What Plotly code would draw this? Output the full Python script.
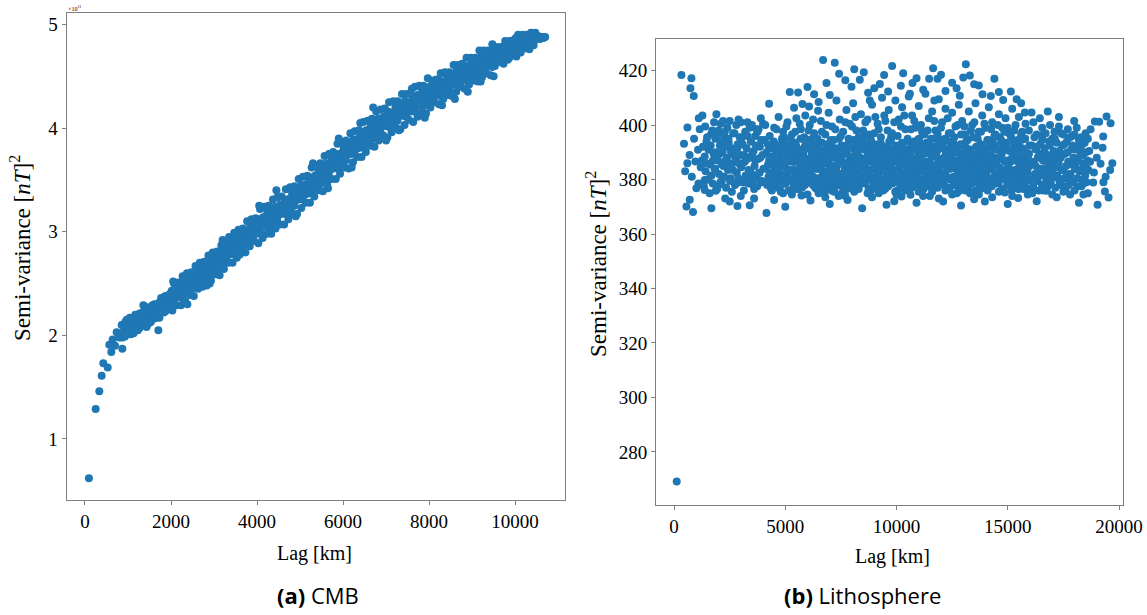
import plotly.graph_objects as go

# ---------------- CMB panel (values in units of 1e11 nT^2) ----------------
cmb_early_lag = [91, 248, 333, 388, 426, 528, 566, 612, 643, 698, 736, 798, 853, 868]
cmb_early_sv = [0.62, 1.29, 1.46, 1.61, 1.73, 1.69, 1.91, 1.84, 1.96, 1.90, 2.03, 1.98, 2.10, 1.87]

cmb_band_lag = [
    868, 886, 917, 936, 962, 993, 1012, 1041, 1066, 1088, 1118, 1137, 1163, 1194, 1211, 1242,
    1268, 1287, 1316, 1338, 1361, 1392, 1413, 1444, 1467, 1486, 1519, 1535, 1562, 1595, 1614, 1643,
    1669, 1688, 1716, 1737, 1764, 1791, 1818, 1839, 1866, 1893, 1912, 1942, 1961, 1987, 2019, 2036,
    2068, 2091, 2113, 2141, 2163, 2188, 2217, 2238, 2266, 2294, 2311, 2343, 2362, 2389, 2418, 2437,
    2467, 2492, 2514, 2541, 2563, 2587, 2619, 2638, 2668, 2693, 2711, 2742, 2761, 2788, 2816, 2839,
    2867, 2891, 2913, 2938, 2962, 2994, 3017, 3036, 3068, 3089, 3112, 3143, 3164, 3187, 3218, 3237,
    3266, 3292, 3311, 3342, 3363, 3388, 3417, 3439, 3467, 3491, 3514, 3538, 3561, 3589, 3616, 3641,
    3668, 3692, 3713, 3736, 3762, 3787, 3818, 3843, 3866, 3894, 3911, 3937, 3963, 3988, 4017, 4039,
    4067, 4092, 4114, 4142, 4161, 4189, 4216, 4238, 4268, 4291, 4313, 4337, 4362, 4388, 4419, 4441,
    4466, 4493, 4512, 4536, 4563, 4587, 4618, 4642, 4667, 4691, 4714, 4739, 4764, 4789, 4816, 4837,
    4866, 4893, 4912, 4941, 4962, 4987, 5018, 5036, 5068, 5091, 5113, 5142, 5163, 5188, 5217, 5238,
    5266, 5292, 5314, 5341, 5362, 5389, 5418, 5437, 5467, 5491, 5512, 5539, 5561, 5588, 5616, 5642,
    5668, 5692, 5713, 5736, 5763, 5787, 5819, 5838, 5866, 5894, 5911, 5942, 5962, 5988, 6017, 6039,
    6067, 6092, 6114, 6141, 6161, 6189, 6216, 6238, 6268, 6291, 6313, 6337, 6362, 6388, 6419, 6441,
    6466, 6493, 6512, 6536, 6563, 6587, 6618, 6642, 6667, 6691, 6714, 6739, 6764, 6789, 6816, 6837,
    6866, 6893, 6912, 6941, 6962, 6987, 7018, 7036, 7068, 7091, 7113, 7142, 7163, 7188, 7217, 7238,
    7266, 7292, 7314, 7341, 7362, 7389, 7418, 7437, 7467, 7491, 7512, 7539, 7561, 7588, 7616, 7642,
    7668, 7692, 7713, 7736, 7763, 7787, 7819, 7838, 7866, 7894, 7911, 7942, 7962, 7988, 8017, 8039,
    8067, 8092, 8114, 8141, 8161, 8189, 8216, 8238, 8268, 8291, 8313, 8337, 8362, 8388, 8419, 8441,
    8466, 8493, 8512, 8536, 8563, 8587, 8618, 8642, 8667, 8691, 8714, 8739, 8764, 8789, 8816, 8837,
    8866, 8893, 8912, 8941, 8962, 8987, 9018, 9036, 9068, 9091, 9113, 9142, 9163, 9188, 9217, 9238,
    9266, 9292, 9314, 9341, 9362, 9389, 9418, 9437, 9467, 9491, 9512, 9539, 9561, 9588, 9616, 9642,
    9668, 9692, 9713, 9736, 9763, 9787, 9819, 9838, 9866, 9894, 9911, 9942, 9962, 9988, 10017, 10039,
    10067, 10092, 10114, 10141, 10161, 10189, 10216, 10238, 10268, 10291, 10313, 10337, 10362, 10388, 10419, 10441,
    10466, 10493, 10512, 10536, 10580, 10630, 10660, 10700,
]
cmb_band_sv = [
    1.98, 2.03, 2.08, 2.13, 2.03, 2.12, 2.07, 2.17, 2.01, 2.11, 2.06, 2.15, 2.15, 2.06, 2.20, 2.12,
    2.07, 2.12, 2.17, 2.22, 2.12, 2.21, 2.16, 2.26, 2.11, 2.21, 2.16, 2.25, 2.25, 2.16, 2.30, 2.22,
    2.17, 2.22, 2.27, 2.32, 2.23, 2.32, 2.27, 2.37, 2.23, 2.33, 2.28, 2.37, 2.38, 2.29, 2.43, 2.35,
    2.31, 2.36, 2.41, 2.46, 2.37, 2.46, 2.41, 2.51, 2.36, 2.46, 2.41, 2.50, 2.51, 2.42, 2.56, 2.48,
    2.44, 2.49, 2.54, 2.59, 2.50, 2.59, 2.54, 2.64, 2.49, 2.59, 2.54, 2.63, 2.64, 2.55, 2.69, 2.61,
    2.57, 2.62, 2.67, 2.72, 2.63, 2.72, 2.67, 2.77, 2.63, 2.73, 2.68, 2.77, 2.78, 2.69, 2.83, 2.75,
    2.71, 2.76, 2.81, 2.86, 2.78, 2.87, 2.82, 2.92, 2.78, 2.88, 2.83, 2.92, 2.93, 2.84, 2.98, 2.90,
    2.86, 2.91, 2.96, 3.01, 2.92, 3.01, 2.96, 3.06, 2.92, 3.02, 2.97, 3.06, 3.07, 2.98, 3.12, 3.04,
    2.99, 3.04, 3.09, 3.14, 3.05, 3.14, 3.09, 3.19, 3.04, 3.14, 3.09, 3.18, 3.19, 3.10, 3.24, 3.16,
    3.11, 3.16, 3.21, 3.26, 3.17, 3.26, 3.21, 3.31, 3.17, 3.27, 3.22, 3.31, 3.32, 3.23, 3.37, 3.29,
    3.25, 3.30, 3.35, 3.40, 3.31, 3.40, 3.35, 3.45, 3.31, 3.41, 3.36, 3.45, 3.46, 3.37, 3.51, 3.43,
    3.39, 3.44, 3.49, 3.54, 3.46, 3.55, 3.50, 3.60, 3.46, 3.56, 3.51, 3.60, 3.61, 3.52, 3.66, 3.58,
    3.54, 3.59, 3.64, 3.69, 3.61, 3.70, 3.65, 3.75, 3.61, 3.71, 3.66, 3.75, 3.76, 3.67, 3.81, 3.73,
    3.69, 3.74, 3.79, 3.84, 3.75, 3.84, 3.79, 3.89, 3.75, 3.85, 3.80, 3.89, 3.90, 3.81, 3.95, 3.87,
    3.83, 3.88, 3.93, 3.98, 3.89, 3.98, 3.93, 4.03, 3.89, 3.99, 3.94, 4.03, 4.04, 3.95, 4.09, 4.01,
    3.96, 4.01, 4.06, 4.11, 4.02, 4.11, 4.06, 4.16, 4.01, 4.11, 4.06, 4.15, 4.15, 4.06, 4.20, 4.12,
    4.07, 4.12, 4.17, 4.22, 4.12, 4.21, 4.16, 4.26, 4.11, 4.21, 4.16, 4.25, 4.25, 4.16, 4.30, 4.22,
    4.17, 4.22, 4.27, 4.32, 4.22, 4.31, 4.26, 4.36, 4.21, 4.31, 4.26, 4.35, 4.35, 4.26, 4.40, 4.32,
    4.27, 4.32, 4.37, 4.42, 4.32, 4.41, 4.36, 4.46, 4.31, 4.41, 4.36, 4.45, 4.45, 4.36, 4.50, 4.42,
    4.37, 4.42, 4.47, 4.52, 4.42, 4.51, 4.46, 4.56, 4.41, 4.51, 4.46, 4.55, 4.55, 4.46, 4.60, 4.52,
    4.46, 4.51, 4.56, 4.61, 4.51, 4.60, 4.55, 4.65, 4.50, 4.60, 4.55, 4.64, 4.64, 4.55, 4.69, 4.61,
    4.55, 4.60, 4.65, 4.70, 4.60, 4.69, 4.64, 4.74, 4.59, 4.69, 4.64, 4.73, 4.73, 4.64, 4.78, 4.70,
    4.64, 4.69, 4.74, 4.79, 4.69, 4.78, 4.73, 4.83, 4.68, 4.78, 4.73, 4.82, 4.82, 4.73, 4.87, 4.79,
    4.75, 4.79, 4.83, 4.87, 4.79, 4.86, 4.82, 4.89, 4.79, 4.86, 4.82, 4.88, 4.88, 4.83, 4.90, 4.86,
    4.85, 4.88, 4.87, 4.89, 4.86, 4.88, 4.87, 4.88,
]
# outer edges of the CMB band (lower / upper member at each lag)
cmb_edge_lag = [
    930, 970, 1030, 1070, 1130, 1170, 1230, 1270, 1330, 1370, 1430, 1470, 1530, 1570, 1630, 1670,
    1730, 1770, 1830, 1870, 1930, 1970, 2030, 2070, 2130, 2170, 2230, 2270, 2330, 2370, 2430, 2470,
    2530, 2570, 2630, 2670, 2730, 2770, 2830, 2870, 2930, 2970, 3030, 3070, 3130, 3170, 3230, 3270,
    3330, 3370, 3430, 3470, 3530, 3570, 3630, 3670, 3730, 3770, 3830, 3870, 3930, 3970, 4030, 4070,
    4130, 4170, 4230, 4270, 4330, 4370, 4430, 4470, 4530, 4570, 4630, 4670, 4730, 4770, 4830, 4870,
    4930, 4970, 5030, 5070, 5130, 5170, 5230, 5270, 5330, 5370, 5430, 5470, 5530, 5570, 5630, 5670,
    5730, 5770, 5830, 5870, 5930, 5970, 6030, 6070, 6130, 6170, 6230, 6270, 6330, 6370, 6430, 6470,
    6530, 6570, 6630, 6670, 6730, 6770, 6830, 6870, 6930, 6970, 7030, 7070, 7130, 7170, 7230, 7270,
    7330, 7370, 7430, 7470, 7530, 7570, 7630, 7670, 7730, 7770, 7830, 7870, 7930, 7970, 8030, 8070,
    8130, 8170, 8230, 8270, 8330, 8370, 8430, 8470, 8530, 8570, 8630, 8670, 8730, 8770, 8830, 8870,
    8930, 8970, 9030, 9070, 9130, 9170, 9230, 9270, 9330, 9370, 9430, 9470, 9530, 9570, 9630, 9670,
    9730, 9770, 9830, 9870, 9930, 9970, 10030, 10070, 10130, 10170, 10230, 10270, 10330, 10370, 10430, 10470,
]
cmb_edge_sv = [
    1.99, 2.15, 2.03, 2.16, 2.02, 2.20, 2.05, 2.21, 2.10, 2.23, 2.08, 2.27, 2.13, 2.29, 2.17, 2.30,
    2.17, 2.36, 2.22, 2.38, 2.27, 2.40, 2.24, 2.50, 2.29, 2.51, 2.29, 2.57, 2.33, 2.60, 2.39, 2.61,
    2.38, 2.67, 2.45, 2.70, 2.47, 2.71, 2.48, 2.77, 2.53, 2.80, 2.59, 2.81, 2.58, 2.87, 2.64, 2.90,
    2.70, 2.92, 2.70, 2.99, 2.75, 3.02, 2.81, 3.03, 2.80, 3.10, 2.86, 3.12, 2.91, 3.13, 2.89, 3.22,
    2.94, 3.24, 2.98, 3.25, 2.98, 3.31, 3.03, 3.33, 3.07, 3.34, 3.07, 3.41, 3.12, 3.43, 3.17, 3.44,
    3.17, 3.51, 3.23, 3.53, 3.28, 3.54, 3.28, 3.62, 3.34, 3.64, 3.40, 3.66, 3.39, 3.73, 3.45, 3.75,
    3.51, 3.77, 3.51, 3.85, 3.56, 3.86, 3.62, 3.88, 3.61, 3.95, 3.67, 3.97, 3.72, 3.98, 3.72, 4.06,
    3.77, 4.07, 3.83, 4.09, 3.82, 4.16, 3.88, 4.18, 3.93, 4.19, 3.91, 4.25, 3.96, 4.26, 4.00, 4.26,
    3.99, 4.33, 4.03, 4.33, 4.08, 4.34, 4.06, 4.40, 4.11, 4.41, 4.15, 4.41, 4.14, 4.48, 4.20, 4.46,
    4.25, 4.47, 4.23, 4.53, 4.28, 4.54, 4.32, 4.54, 4.31, 4.61, 4.35, 4.61, 4.40, 4.62, 4.38, 4.68,
    4.42, 4.68, 4.46, 4.68, 4.45, 4.75, 4.49, 4.75, 4.53, 4.75, 4.51, 4.81, 4.60, 4.78, 4.64, 4.78,
    4.62, 4.84, 4.66, 4.84, 4.71, 4.85, 4.69, 4.90, 4.73, 4.90, 4.77, 4.90, 4.76, 4.92, 4.80, 4.92,
]
cmb_out_lag = [1357, 1705, 2050, 2380, 2900, 3200, 3350, 3600, 4050, 4450, 4900, 5300, 5650,
               5900, 6200, 6700, 7000, 7600, 7900, 8300, 8600, 8900, 9200, 9500, 6400, 7300]
cmb_out_sv = [2.29, 2.05, 2.52, 2.30, 2.50, 2.92, 2.95, 2.78, 3.25, 3.40, 3.15, 3.66, 3.42,
              3.90, 3.62, 4.20, 3.88, 4.38, 4.10, 4.22, 4.28, 4.35, 4.45, 4.50, 4.05, 3.98]

# ---------------- Lithosphere panel (nT^2) ----------------
lith_outlier_lag = [121]
lith_outlier_sv = [269.1]

lith_early_lag = [962, 1079, 1380, 600, 800, 1200, 900, 1300, 700, 1100, 1250, 500]
lith_early_sv = [386.6, 390.9, 379.8, 386.0, 381.0, 384.5, 395.0, 392.0, 389.0, 378.5, 387.0, 383.0]

lith_coreA_lag = [
    1340, 1420, 1380, 1460, 1400, 1540, 1620, 1580, 1660, 1600, 1740, 1820, 1780, 1860, 1800,
    1940, 2020, 1980, 2060, 2000, 2140, 2220, 2180, 2260, 2200, 2340, 2420, 2380, 2460, 2400,
    2540, 2620, 2580, 2660, 2600, 2740, 2820, 2780, 2860, 2800, 2940, 3020, 2980, 3060, 3000,
    3140, 3220, 3180, 3260, 3200, 3340, 3420, 3380, 3460, 3400, 3540, 3620, 3580, 3660, 3600,
    3740, 3820, 3780, 3860, 3800, 3940, 4020, 3980, 4060, 4000,
]
lith_coreA_sv = [
    377.5, 383.0, 388.5, 394.0, 399.5, 380.0, 385.5, 391.0, 396.5, 375.0, 378.5, 384.0, 389.5, 395.0, 401.0,
    376.5, 382.0, 387.0, 392.5, 398.0, 379.5, 385.0, 390.0, 396.0, 401.5, 377.0, 383.5, 388.0, 393.5, 399.0,
    380.5, 386.0, 391.5, 397.0, 375.5, 378.0, 382.5, 387.5, 393.0, 400.0, 379.0, 384.5, 389.0, 395.5, 401.0,
    376.0, 381.5, 386.5, 391.5, 397.5, 378.5, 383.0, 388.0, 394.0, 399.0, 380.0, 385.0, 390.5, 396.0, 376.5,
    377.5, 382.5, 387.5, 392.0, 398.5, 379.0, 384.0, 389.0, 394.5, 400.5,
]
lith_coreA2_lag = [
    1450, 1485, 1515, 1550, 1650, 1685, 1715, 1750, 1850, 1885, 1915, 1950,
    2050, 2085, 2115, 2150, 2250, 2285, 2315, 2350, 2450, 2485, 2515, 2550,
    2650, 2685, 2715, 2750, 2850, 2885, 2915, 2950, 3050, 3085, 3115, 3150,
    3250, 3285, 3315, 3350, 3450, 3485, 3515, 3550, 3650, 3685, 3715, 3750,
    3850, 3885, 3915, 3950,
]
lith_coreA2_sv = [
    386.0, 395.5, 380.0, 391.0, 392.5, 381.5, 398.0, 387.0, 384.0, 390.0, 377.5, 396.5,
    389.5, 379.0, 394.0, 385.5, 381.0, 397.5, 387.0, 392.0, 395.0, 385.0, 379.5, 390.5,
    383.5, 389.0, 397.0, 378.5, 391.5, 380.5, 386.0, 395.5, 385.5, 393.0, 379.0, 389.0,
    380.0, 387.5, 396.0, 383.5, 394.0, 382.0, 389.5, 378.0, 387.0, 392.5, 380.5, 397.5,
    382.5, 388.0, 394.5, 379.5,
]

lith_coreB_lag = [
    4125, 4155, 4185, 4215, 4245, 4275, 4325, 4355, 4385, 4415, 4445, 4475,
    4525, 4555, 4585, 4615, 4645, 4675, 4725, 4755, 4785, 4815, 4845, 4875,
    4925, 4955, 4985, 5015, 5045, 5075, 5125, 5155, 5185, 5215, 5245, 5275,
    5325, 5355, 5385, 5415, 5445, 5475, 5525, 5555, 5585, 5615, 5645, 5675,
    5725, 5755, 5785, 5815, 5845, 5875, 5925, 5955, 5985, 6015, 6045, 6075,
    6125, 6155, 6185, 6215, 6245, 6275, 6325, 6355, 6385, 6415, 6445, 6475,
    6525, 6555, 6585, 6615, 6645, 6675, 6725, 6755, 6785, 6815, 6845, 6875,
    6925, 6955, 6985, 7015, 7045, 7075, 7125, 7155, 7185, 7215, 7245, 7275,
    7325, 7355, 7385, 7415, 7445, 7475, 7525, 7555, 7585, 7615, 7645, 7675,
    7725, 7755, 7785, 7815, 7845, 7875, 7925, 7955, 7985, 8015, 8045, 8075,
    8125, 8155, 8185, 8215, 8245, 8275, 8325, 8355, 8385, 8415, 8445, 8475,
    8525, 8555, 8585, 8615, 8645, 8675, 8725, 8755, 8785, 8815, 8845, 8875,
    8925, 8955, 8985, 9015, 9045, 9075, 9125, 9155, 9185, 9215, 9245, 9275,
    9325, 9355, 9385, 9415, 9445, 9475, 9525, 9555, 9585, 9615, 9645, 9675,
    9725, 9755, 9785, 9815, 9845, 9875, 9925, 9955, 9985, 10015, 10045, 10075,
    10125, 10155, 10185, 10215, 10245, 10275, 10325, 10355, 10385, 10415, 10445, 10475,
    10525, 10555, 10585, 10615, 10645, 10675, 10725, 10755, 10785, 10815, 10845, 10875,
    10925, 10955, 10985, 11015, 11045, 11075, 11125, 11155, 11185, 11215, 11245, 11275,
    11325, 11355, 11385, 11415, 11445, 11475, 11525, 11555, 11585, 11615, 11645, 11675,
    11725, 11755, 11785, 11815, 11845, 11875, 11925, 11955, 11985, 12015, 12045, 12075,
    12125, 12155, 12185, 12215, 12245, 12275, 12325, 12355, 12385, 12415, 12445, 12475,
    12525, 12555, 12585, 12615, 12645, 12675, 12725, 12755, 12785, 12815, 12845, 12875,
    12925, 12955, 12985, 13015, 13045, 13075, 13125, 13155, 13185, 13215, 13245, 13275,
    13325, 13355, 13385, 13415, 13445, 13475, 13525, 13555, 13585, 13615, 13645, 13675,
    13725, 13755, 13785, 13815, 13845, 13875, 13925, 13955, 13985, 14015, 14045, 14075,
    14125, 14155, 14185, 14215, 14245, 14275, 14325, 14355, 14385, 14415, 14445, 14475,
    14525, 14555, 14585, 14615, 14645, 14675, 14725, 14755, 14785, 14815, 14845, 14875,
    14925, 14955, 14985, 15015, 15045, 15075, 15125, 15155, 15185, 15215, 15245, 15275,
    15325, 15355, 15385, 15415, 15445, 15475, 15525, 15555, 15585, 15615, 15645, 15675,
    15725, 15755, 15785, 15815, 15845, 15875, 15925, 15955, 15985, 16015, 16045, 16075,
]
lith_coreB_sv = [
    384.0, 390.0, 378.0, 393.0, 381.0, 387.0, 388.5, 377.0, 385.5, 382.5, 391.5, 379.5,
    380.0, 386.0, 392.5, 377.5, 389.5, 383.0, 391.0, 382.0, 388.0, 379.0, 385.0, 394.0,
    381.5, 395.5, 384.5, 378.5, 387.5, 390.5, 386.5, 380.5, 392.0, 383.5, 376.0, 389.0,
    390.5, 383.5, 378.5, 386.5, 393.5, 381.5, 382.0, 389.0, 376.5, 391.0, 379.0, 386.0,
    386.5, 377.0, 383.5, 389.0, 380.5, 392.0, 379.5, 387.5, 394.5, 382.5, 391.5, 384.5,
    385.0, 381.0, 390.0, 395.0, 378.0, 388.0, 392.5, 386.0, 380.0, 376.5, 389.5, 384.0,
    390.5, 384.0, 378.5, 386.5, 393.5, 381.5, 382.0, 389.5, 376.5, 391.0, 379.0, 386.0,
    386.5, 377.5, 383.5, 389.0, 380.5, 392.0, 379.5, 388.0, 394.5, 382.5, 391.5, 384.5,
    385.0, 381.5, 390.0, 395.0, 378.0, 388.0, 392.5, 386.5, 380.0, 376.5, 389.5, 384.0,
    384.0, 390.5, 378.0, 393.0, 381.0, 387.0, 388.5, 377.5, 385.5, 382.5, 391.5, 379.5,
    380.0, 386.5, 392.5, 377.5, 389.5, 383.0, 391.0, 382.5, 388.0, 379.0, 385.0, 394.0,
    381.5, 396.0, 384.5, 378.5, 387.5, 390.5, 386.5, 381.0, 392.0, 383.5, 376.0, 389.0,
    384.0, 390.0, 377.5, 393.0, 381.0, 387.0, 388.5, 377.0, 385.0, 382.5, 391.5, 379.5,
    380.0, 386.0, 392.0, 377.5, 389.5, 383.0, 391.0, 382.0, 387.5, 379.0, 385.0, 394.0,
    381.5, 395.5, 384.0, 378.5, 387.5, 390.5, 386.5, 380.5, 391.5, 383.5, 376.0, 389.0,
    390.5, 383.5, 378.0, 386.5, 393.5, 381.5, 382.0, 389.0, 376.0, 391.0, 379.0, 386.0,
    386.5, 377.0, 383.0, 389.0, 380.5, 392.0, 379.5, 387.5, 394.0, 382.5, 391.5, 384.5,
    385.0, 381.0, 389.5, 395.0, 378.0, 388.0, 392.5, 386.0, 379.5, 376.5, 389.5, 384.0,
    381.5, 393.5, 386.5, 378.5, 383.5, 390.5, 386.0, 379.0, 391.0, 376.5, 389.0, 382.0,
    392.0, 380.5, 389.0, 383.5, 377.0, 386.5, 384.5, 391.5, 382.5, 394.5, 387.5, 379.5,
    388.0, 378.0, 395.0, 390.0, 381.0, 385.0, 384.0, 389.5, 376.5, 380.0, 386.0, 392.5,
    387.0, 381.0, 393.0, 378.0, 390.0, 384.0, 379.5, 391.5, 382.5, 385.5, 377.0, 388.5,
    383.0, 389.5, 377.5, 392.5, 386.0, 380.0, 394.0, 385.0, 379.0, 388.0, 382.0, 391.0,
    390.5, 387.5, 378.5, 384.5, 395.5, 381.5, 389.0, 376.0, 383.5, 392.0, 380.5, 386.5,
    387.5, 381.0, 393.0, 378.0, 390.0, 384.0, 380.0, 391.5, 382.5, 385.5, 377.0, 388.5,
    383.5, 389.5, 377.5, 392.5, 386.0, 380.0, 394.5, 385.0, 379.0, 388.0, 382.0, 391.0,
    391.0, 387.5, 378.5, 384.5, 395.5, 381.5, 389.5, 376.0, 383.5, 392.0, 380.5, 386.5,
    382.0, 393.5, 386.5, 378.5, 383.5, 390.5, 386.5, 379.0, 391.0, 376.5, 389.0, 382.0,
    392.5, 380.5, 389.0, 383.5, 377.0, 386.5, 385.0, 391.5, 382.5, 394.5, 387.5, 379.5,
    388.5, 378.0, 395.0, 390.0, 381.0, 385.0, 384.5, 389.5, 376.5, 380.0, 386.0, 392.5,
]
lith_coreB2_lag = [
    4225, 4255, 4285, 4315, 4345, 4375, 4425, 4455, 4485, 4515, 4545, 4575,
    4625, 4655, 4685, 4715, 4745, 4775, 4825, 4855, 4885, 4915, 4945, 4975,
    5025, 5055, 5085, 5115, 5145, 5175, 5225, 5255, 5285, 5315, 5345, 5375,
    5425, 5455, 5485, 5515, 5545, 5575, 5625, 5655, 5685, 5715, 5745, 5775,
    5825, 5855, 5885, 5915, 5945, 5975, 6025, 6055, 6085, 6115, 6145, 6175,
    6225, 6255, 6285, 6315, 6345, 6375, 6425, 6455, 6485, 6515, 6545, 6575,
    6625, 6655, 6685, 6715, 6745, 6775, 6825, 6855, 6885, 6915, 6945, 6975,
    7025, 7055, 7085, 7115, 7145, 7175, 7225, 7255, 7285, 7315, 7345, 7375,
    7425, 7455, 7485, 7515, 7545, 7575, 7625, 7655, 7685, 7715, 7745, 7775,
    7825, 7855, 7885, 7915, 7945, 7975, 8025, 8055, 8085, 8115, 8145, 8175,
    8225, 8255, 8285, 8315, 8345, 8375, 8425, 8455, 8485, 8515, 8545, 8575,
    8625, 8655, 8685, 8715, 8745, 8775, 8825, 8855, 8885, 8915, 8945, 8975,
    9025, 9055, 9085, 9115, 9145, 9175, 9225, 9255, 9285, 9315, 9345, 9375,
    9425, 9455, 9485, 9515, 9545, 9575, 9625, 9655, 9685, 9715, 9745, 9775,
    9825, 9855, 9885, 9915, 9945, 9975, 10025, 10055, 10085, 10115, 10145, 10175,
    10225, 10255, 10285, 10315, 10345, 10375, 10425, 10455, 10485, 10515, 10545, 10575,
    10625, 10655, 10685, 10715, 10745, 10775, 10825, 10855, 10885, 10915, 10945, 10975,
    11025, 11055, 11085, 11115, 11145, 11175, 11225, 11255, 11285, 11315, 11345, 11375,
    11425, 11455, 11485, 11515, 11545, 11575, 11625, 11655, 11685, 11715, 11745, 11775,
    11825, 11855, 11885, 11915, 11945, 11975, 12025, 12055, 12085, 12115, 12145, 12175,
    12225, 12255, 12285, 12315, 12345, 12375, 12425, 12455, 12485, 12515, 12545, 12575,
    12625, 12655, 12685, 12715, 12745, 12775, 12825, 12855, 12885, 12915, 12945, 12975,
    13025, 13055, 13085, 13115, 13145, 13175, 13225, 13255, 13285, 13315, 13345, 13375,
    13425, 13455, 13485, 13515, 13545, 13575, 13625, 13655, 13685, 13715, 13745, 13775,
    13825, 13855, 13885, 13915, 13945, 13975, 14025, 14055, 14085, 14115, 14145, 14175,
    14225, 14255, 14285, 14315, 14345, 14375, 14425, 14455, 14485, 14515, 14545, 14575,
    14625, 14655, 14685, 14715, 14745, 14775, 14825, 14855, 14885, 14915, 14945, 14975,
    15025, 15055, 15085, 15115, 15145, 15175, 15225, 15255, 15285, 15315, 15345, 15375,
    15425, 15455, 15485, 15515, 15545, 15575, 15625, 15655, 15685, 15715, 15745, 15775,
    15825, 15855, 15885, 15915, 15945, 15975,
]
lith_coreB2_sv = [
    385.5, 379.0, 391.5, 382.5, 388.0, 376.5, 381.0, 387.5, 394.0, 384.0, 378.5, 390.0,
    389.5, 383.5, 377.0, 392.5, 386.0, 380.5, 378.0, 392.0, 385.0, 381.5, 390.5, 387.0,
    387.0, 380.0, 383.0, 389.0, 376.0, 393.0, 383.0, 390.5, 379.5, 386.5, 392.5, 377.5,
    386.5, 380.0, 392.5, 383.5, 389.0, 377.5, 382.0, 388.5, 395.0, 385.0, 379.5, 391.0,
    390.5, 384.5, 378.0, 393.5, 387.0, 381.5, 379.0, 393.0, 386.0, 382.5, 391.5, 388.0,
    388.0, 381.0, 384.0, 390.0, 377.0, 394.0, 384.0, 391.5, 380.5, 387.5, 393.5, 378.5,
    384.5, 378.0, 390.5, 381.5, 387.0, 375.5, 380.0, 386.5, 393.0, 383.0, 377.5, 389.0,
    388.5, 382.5, 376.0, 391.5, 385.0, 379.5, 377.0, 391.0, 384.0, 380.5, 389.5, 386.0,
    386.0, 379.0, 382.0, 388.0, 375.0, 392.0, 382.0, 389.5, 378.5, 385.5, 391.5, 376.5,
    386.0, 379.5, 392.0, 383.0, 388.5, 377.0, 381.5, 388.0, 394.5, 384.5, 379.0, 390.5,
    390.0, 384.0, 377.5, 393.0, 386.5, 381.0, 378.5, 392.5, 385.5, 382.0, 391.0, 387.5,
    387.5, 380.5, 383.5, 389.5, 376.5, 393.5, 383.5, 391.0, 380.0, 387.0, 393.0, 378.0,
    385.0, 378.5, 391.0, 382.0, 387.5, 376.0, 380.5, 387.0, 393.5, 383.5, 378.0, 389.5,
    389.0, 383.0, 376.5, 392.0, 385.5, 380.0, 377.5, 391.5, 384.5, 381.0, 390.0, 386.5,
    386.5, 379.5, 382.5, 388.5, 375.5, 392.5, 382.5, 390.0, 379.0, 386.0, 392.0, 377.0,
    385.5, 379.0, 391.5, 382.5, 388.0, 376.5, 381.0, 387.5, 394.0, 384.0, 378.5, 390.0,
    389.5, 383.5, 377.0, 392.5, 386.0, 380.5, 378.0, 392.0, 385.0, 381.5, 390.5, 387.0,
    387.0, 380.0, 383.0, 389.0, 376.0, 393.0, 383.0, 390.5, 379.5, 386.5, 392.5, 377.5,
    386.5, 380.0, 392.5, 383.5, 389.0, 377.5, 382.0, 388.5, 395.0, 385.0, 379.5, 391.0,
    390.5, 384.5, 378.0, 393.5, 387.0, 381.5, 379.0, 393.0, 386.0, 382.5, 391.5, 388.0,
    388.0, 381.0, 384.0, 390.0, 377.0, 394.0, 384.0, 391.5, 380.5, 387.5, 393.5, 378.5,
    384.5, 378.0, 390.5, 381.5, 387.0, 375.5, 380.0, 386.5, 393.0, 383.0, 377.5, 389.0,
    388.5, 382.5, 376.0, 391.5, 385.0, 379.5, 377.0, 391.0, 384.0, 380.5, 389.5, 386.0,
    386.0, 379.0, 382.0, 388.0, 375.0, 392.0, 382.0, 389.5, 378.5, 385.5, 391.5, 376.5,
    386.0, 379.5, 392.0, 383.0, 388.5, 377.0, 381.5, 388.0, 394.5, 384.5, 379.0, 390.5,
    390.0, 384.0, 377.5, 393.0, 386.5, 381.0, 378.5, 392.5, 385.5, 382.0, 391.0, 387.5,
    387.5, 380.5, 383.5, 389.5, 376.5, 393.5, 383.5, 391.0, 380.0, 387.0, 393.0, 378.0,
    385.0, 378.5, 391.0, 382.0, 387.5, 376.0, 380.5, 387.0, 393.5, 383.5, 378.0, 389.5,
    389.0, 383.0, 376.5, 392.0, 385.5, 380.0, 377.5, 391.5, 384.5, 381.0, 390.0, 386.5,
    386.5, 379.5, 382.5, 388.5, 375.5, 392.5,
]

lith_coreC_lag = [
    16140, 16220, 16180, 16260, 16200, 16340, 16420, 16380, 16460, 16400,
    16540, 16620, 16580, 16660, 16600, 16740, 16820, 16780, 16860, 16800,
    16940, 17020, 16980, 17060, 17000, 17140, 17220, 17180, 17260, 17200,
    17340, 17420, 17380, 17460, 17400, 17540, 17620, 17580, 17660, 17600,
    17740, 17820, 17780, 17860, 17800, 17940, 18020, 17980, 18060, 18000,
    18140, 18220, 18180, 18260, 18200, 18340, 18420, 18380, 18460, 18400,
    18540, 18620, 18580, 18660, 18600,
]
lith_coreC_sv = [
    377.5, 382.0, 386.5, 391.0, 395.5, 379.5, 384.0, 388.5, 393.0, 376.0,
    378.0, 383.0, 387.0, 391.5, 396.5, 380.0, 384.5, 389.0, 394.0, 377.5,
    378.5, 382.5, 386.0, 390.5, 395.0, 377.0, 381.5, 385.5, 389.5, 393.5,
    379.0, 383.5, 388.0, 392.5, 397.0, 380.5, 385.0, 389.5, 394.0, 376.5,
    378.0, 382.0, 386.5, 391.0, 395.5, 379.5, 384.0, 388.0, 392.0, 396.5,
    377.5, 383.0, 387.5, 391.5, 394.5, 380.0, 384.5, 389.0, 393.5, 378.5,
    379.0, 383.5, 387.0, 390.5, 395.0,
]
lith_coreC2_lag = [
    16250, 16285, 16315, 16350, 16450, 16485, 16515, 16550, 16650, 16685, 16715, 16750,
    16850, 16885, 16915, 16950, 17050, 17085, 17115, 17150, 17250, 17285, 17315, 17350,
    17450, 17485, 17515, 17550, 17650, 17685, 17715, 17750, 17850, 17885, 17915, 17950,
    18050, 18085, 18115, 18150, 18250, 18285, 18315, 18350, 18450, 18485, 18515, 18550,
]
lith_coreC2_sv = [
    385.0, 380.5, 392.0, 388.0, 381.5, 389.5, 384.0, 394.5, 390.0, 378.5, 386.5, 382.5,
    383.0, 392.5, 380.0, 388.5, 387.5, 381.0, 395.0, 384.5, 380.5, 386.0, 390.5, 378.0,
    389.0, 383.5, 377.5, 393.0, 382.0, 390.0, 386.5, 380.0, 385.5, 379.0, 392.5, 388.0,
    391.0, 384.0, 380.5, 386.5, 383.5, 389.5, 377.5, 393.0, 386.0, 381.5, 390.0, 384.0,
]

lith_high_lag = [332, 782, 737, 886, 602, 450, 1111, 1156, 1277, 1905, 4273, 5202, 5577, 6296,
                 6700, 7225, 7421, 6852, 8530, 8350, 7976, 9803, 9443, 9250, 8724, 5396, 5773,
                 6070, 6475, 11646, 13116, 13296, 13489, 11466, 11843, 10899, 10719, 10193, 9622,
                 12203, 15140, 14600, 13866, 14240, 14793, 12846, 15769, 16070, 16443, 17986,
                 18916, 19442, 19622, 19110, 18723, 19290, 19262]
lith_high_sv = [418.4, 417.2, 413.5, 410.7, 399.1, 393.1, 402.5, 398.5, 403.5, 404.0, 407.8, 412.1,
                412.0, 411.3, 423.9, 422.9, 418.8, 415.4, 419.4, 416.6, 414.1, 421.7, 418.4, 415.1,
                411.9, 406.4, 407.7, 406.8, 405.3, 420.9, 422.3, 418.2, 415.0, 417.0, 417.0, 417.2,
                415.4, 414.4, 412.3, 412.5, 412.3, 412.1, 411.3, 410.7, 409.2, 410.8, 404.6, 404.6,
                402.5, 401.5, 401.3, 403.1, 400.7, 401.2, 398.5, 395.8, 391.7]

lith_upper_lag = [2100, 2500, 2900, 3300, 3500, 3700, 3900, 4100, 4500, 4700,
                  4900, 5100, 5300, 5500, 5700, 5900, 6100, 6300, 6500, 6600,
                  6800, 6950, 7100, 7300, 7450, 7600, 7750, 7900, 8050, 8200,
                  8400, 8600, 8750, 8900, 9050, 9200, 9350, 9500, 9650, 9800,
                  9950, 10100, 10250, 10400, 10550, 10700, 10850, 11000, 11150, 11300,
                  11450, 11600, 11750, 11900, 12050, 12200, 12350, 12500, 12650, 12800,
                  12950, 13100, 13250, 13400, 13550, 13700, 13850, 14000, 14150, 14300,
                  14450, 14600, 14750, 14900, 15050, 15200, 15350, 15500, 15650, 15800,
                  15950, 16150, 16300, 16550, 16700, 16900, 17100, 17300, 17500, 17700,
                  17900, 18100, 18300, 18500,
                  6000, 7700, 8100, 9000, 10300, 11200, 12000, 12500, 13700, 14400,
                  15400, 7000, 8800, 11700, 12700, 10600, 13000, 15600, 16800, 17300]
lith_upper_sv = [400.5, 401.5, 402.0, 401.0, 400.0, 398.5, 402.5, 400.0, 399.0, 403.0,
                 397.5, 401.0, 396.5, 402.5, 398.5, 403.5, 400.0, 397.0, 408.5, 401.5,
                 396.5, 404.5, 399.5, 409.0, 402.0, 397.5, 405.5, 400.5, 408.0, 398.0,
                 404.0, 401.0, 396.5, 407.5, 403.0, 398.5, 410.0, 401.5, 405.5, 397.0,
                 409.0, 402.0, 406.5, 398.5, 410.5, 403.5, 399.0, 407.0, 397.5, 411.5,
                 402.5, 405.0, 398.0, 409.5, 401.0, 406.0, 397.0, 404.5, 399.5, 407.5,
                 401.5, 396.5, 405.0, 400.0, 408.0, 397.5, 403.5, 399.0, 406.5, 401.0,
                 396.5, 404.0, 399.0, 402.5, 397.0, 406.0, 400.0, 403.0, 397.5, 400.5,
                 398.0, 401.0, 396.5, 399.0, 397.0, 400.0, 397.5, 399.5, 396.5, 398.5,
                 396.0, 399.0, 395.5, 397.0,
                 414.0, 416.5, 420.5, 413.5, 419.0, 413.0, 418.5, 415.5, 414.5, 417.0,
                 409.5, 411.0, 409.0, 409.0, 413.5, 411.5, 417.5, 408.0, 405.0, 403.0]

lith_edge_lag = [4300, 4600, 4850, 5050, 5250, 5450, 5650, 5850, 6050, 6250,
                 6450, 6650, 6850, 7050, 7250, 7500, 7700, 7850, 8000, 8150,
                 8300, 8500, 8700, 8850, 9000, 9150, 9300, 9450, 9600, 9750,
                 9900, 10050, 10200, 10350, 10500, 10650, 10800, 10950, 11100, 11250,
                 11400, 11550, 11700, 11850, 12000, 12150, 12300, 12450, 12600, 12750,
                 12900, 13050, 13200, 13350, 13500, 13650, 13800, 13950, 14100, 14250,
                 14400, 14550, 14700, 14850, 15000, 15150, 15300, 15450, 15600, 15750]
lith_edge_sv = [396.0, 398.5, 395.0, 399.5, 394.5, 397.5, 400.5, 395.5, 398.0, 402.0,
                395.0, 397.5, 400.0, 394.5, 398.5, 396.0, 401.0, 395.0, 399.5, 403.0,
                395.5, 398.0, 402.0, 394.5, 397.0, 400.5, 395.5, 403.5, 398.0, 394.5,
                401.0, 396.0, 399.5, 403.5, 395.0, 398.5, 401.5, 394.5, 400.0, 396.5,
                398.0, 395.0, 401.5, 396.5, 399.0, 394.5, 402.5, 397.0, 395.5, 400.0,
                396.5, 399.5, 394.5, 398.0, 401.0, 395.0, 397.5, 400.5, 394.5, 398.5,
                396.0, 400.0, 394.5, 397.5, 399.0, 395.5, 398.0, 394.5, 396.5, 395.0]

lith_low_lag = [557, 706, 854, 1380, 1006, 1680, 1875, 2131, 2504, 2850,
                3404, 4154, 8455, 9550, 6133, 5728, 13970, 13489, 15468, 16745,
                12095, 11196, 10629, 10225, 14870, 19038, 19532, 19366, 3000, 3600,
                4500, 5000, 5300, 6500, 7000, 7400, 7800, 8100, 8900, 9200,
                9900, 10900, 11600, 12500, 12900, 13300, 14300, 15000, 15900, 16300,
                17200, 17800, 18200, 18600, 4800, 2300, 6800, 11900,
                4400, 4900, 5500, 6000, 6600, 7200, 7700, 8300, 8700, 9400,
                10000, 10500, 11000, 11500, 12200, 12700, 13100, 13700, 14100, 14600,
                15200, 15700, 16100, 16600, 17000, 17500, 18000, 18400]
lith_low_sv = [370.1, 372.6, 368.1, 376.2, 376.8, 369.5, 375.9, 378.4, 371.9, 370.3,
               370.6, 367.7, 369.5, 370.7, 372.3, 374.1, 371.9, 372.8, 373.2, 375.9,
               371.9, 374.0, 374.4, 373.8, 375.2, 370.7, 373.4, 375.6, 374.0, 373.0,
               372.5, 370.0, 374.5, 375.0, 371.0, 374.0, 372.5, 375.5, 373.5, 375.0,
               372.0, 371.5, 375.5, 374.5, 370.5, 375.0, 373.5, 371.0, 374.5, 372.0,
               373.5, 374.5, 371.5, 375.0, 375.5, 373.0, 373.5, 373.0,
               376.0, 375.0, 376.5, 374.5, 376.0, 375.5, 374.0, 376.5, 375.0, 376.0,
               374.5, 376.5, 375.5, 374.0, 376.0, 375.0, 376.5, 374.5, 376.0, 375.5,
               374.0, 376.5, 375.0, 376.0, 374.5, 375.5, 376.0, 374.5]

lith_late_lag = [18840, 18871, 19172, 19000, 19400, 19600, 18700, 19300, 19700, 18950]
lith_late_sv = [378.9, 382.6, 385.8, 388.0, 381.0, 383.5, 386.5, 379.0, 386.0, 392.5]

cmb_ticks_x = [0, 2000, 4000, 6000, 8000, 10000]
cmb_ticks_y = [1, 2, 3, 4, 5]
lith_ticks_x = [0, 5000, 10000, 15000, 20000]
lith_ticks_y = [280, 300, 320, 340, 360, 380, 400, 420]


def pairs(lags, vals):
    n = min(len(lags), len(vals))
    return list(lags[:n]), list(vals[:n])


cx, cy = [], []
for L, V in [(cmb_early_lag, cmb_early_sv), (cmb_band_lag, cmb_band_sv),
             (cmb_edge_lag, cmb_edge_sv), (cmb_out_lag, cmb_out_sv)]:
    a, b = pairs(L, V)
    cx += a
    cy += b

lx, ly = [], []
for L, V in [(lith_outlier_lag, lith_outlier_sv), (lith_early_lag, lith_early_sv),
             (lith_coreA_lag, lith_coreA_sv), (lith_coreA2_lag, lith_coreA2_sv),
             (lith_coreB_lag, lith_coreB_sv), (lith_coreB2_lag, lith_coreB2_sv),
             (lith_coreC_lag, lith_coreC_sv), (lith_coreC2_lag, lith_coreC2_sv),
             (lith_high_lag, lith_high_sv), (lith_upper_lag, lith_upper_sv),
             (lith_edge_lag, lith_edge_sv), (lith_low_lag, lith_low_sv),
             (lith_late_lag, lith_late_sv)]:
    a, b = pairs(L, V)
    lx += a
    ly += b

W, H = 1147, 615
BLUE = '#1f77b4'
SERIF = 'Liberation Serif, DejaVu Serif, serif'
SANS = 'Open Sans, DejaVu Sans, sans-serif'
FRAME = '#7f7f7f'

fig = go.Figure()
fig.add_trace(go.Scatter(x=cx, y=cy, mode='markers', xaxis='x', yaxis='y',
                         marker=dict(color=BLUE, size=8, line=dict(width=0)),
                         showlegend=False, hoverinfo='skip'))
fig.add_trace(go.Scatter(x=lx, y=ly, mode='markers', xaxis='x2', yaxis='y2',
                         marker=dict(color=BLUE, size=8, line=dict(width=0)),
                         showlegend=False, hoverinfo='skip'))

axis_common = dict(showline=True, mirror=True, linecolor=FRAME, linewidth=1,
                   ticks='outside', ticklen=4, tickcolor=FRAME, tickwidth=1,
                   showgrid=False, zeroline=False, automargin=False,
                   tickfont=dict(family=SERIF, size=19, color='black'))

fig.update_layout(
    width=W, height=H,
    margin=dict(l=0, r=0, t=0, b=0, pad=0, autoexpand=False),
    paper_bgcolor='white', plot_bgcolor='white',
    xaxis=dict(domain=[66.5 / W, 565 / W], range=[-430, 11160], anchor='y',
               tickvals=cmb_ticks_x, ticktext=[str(v) for v in cmb_ticks_x], **axis_common),
    yaxis=dict(domain=[1 - 500 / H, 1 - 13.3 / H], range=[0.411, 5.108], anchor='x',
               tickvals=cmb_ticks_y, ticktext=[str(v) for v in cmb_ticks_y], **axis_common),
    xaxis2=dict(domain=[656 / W, 1123 / W], range=[-810, 20180], anchor='y2',
                tickvals=lith_ticks_x, ticktext=[str(v) for v in lith_ticks_x], **axis_common),
    yaxis2=dict(domain=[1 - 505 / H, 1 - 39 / H], range=[260.5, 431.6], anchor='x2',
                tickvals=lith_ticks_y, ticktext=[str(v) for v in lith_ticks_y], **axis_common),
)


def ann(text, px, py, size, family=SERIF, angle=0, xanchor='center'):
    fig.add_annotation(text=text, x=px / W, y=1 - py / H, xref='paper', yref='paper',
                       showarrow=False, textangle=angle, xanchor=xanchor, yanchor='middle',
                       font=dict(family=family, size=size, color='black'))


ann('Lag [km]', 314, 553, 20)
ann('Lag [km]', 892, 556, 20)
ann('Semi-variance [<i>nT</i>]<sup>2</sup>', 20, 248, 23, angle=-90)
ann('Semi-variance [<i>nT</i>]<sup>2</sup>', 597, 264, 23, angle=-90)
ann('<b>(a)</b> CMB', 318, 595, 22, family=SANS)
ann('<b>(b)</b> Lithosphere', 862, 595, 22, family=SANS)
ann('×10<sup>11</sup>', 66, 8, 6, xanchor='left')

fig.write_html('out.html')
